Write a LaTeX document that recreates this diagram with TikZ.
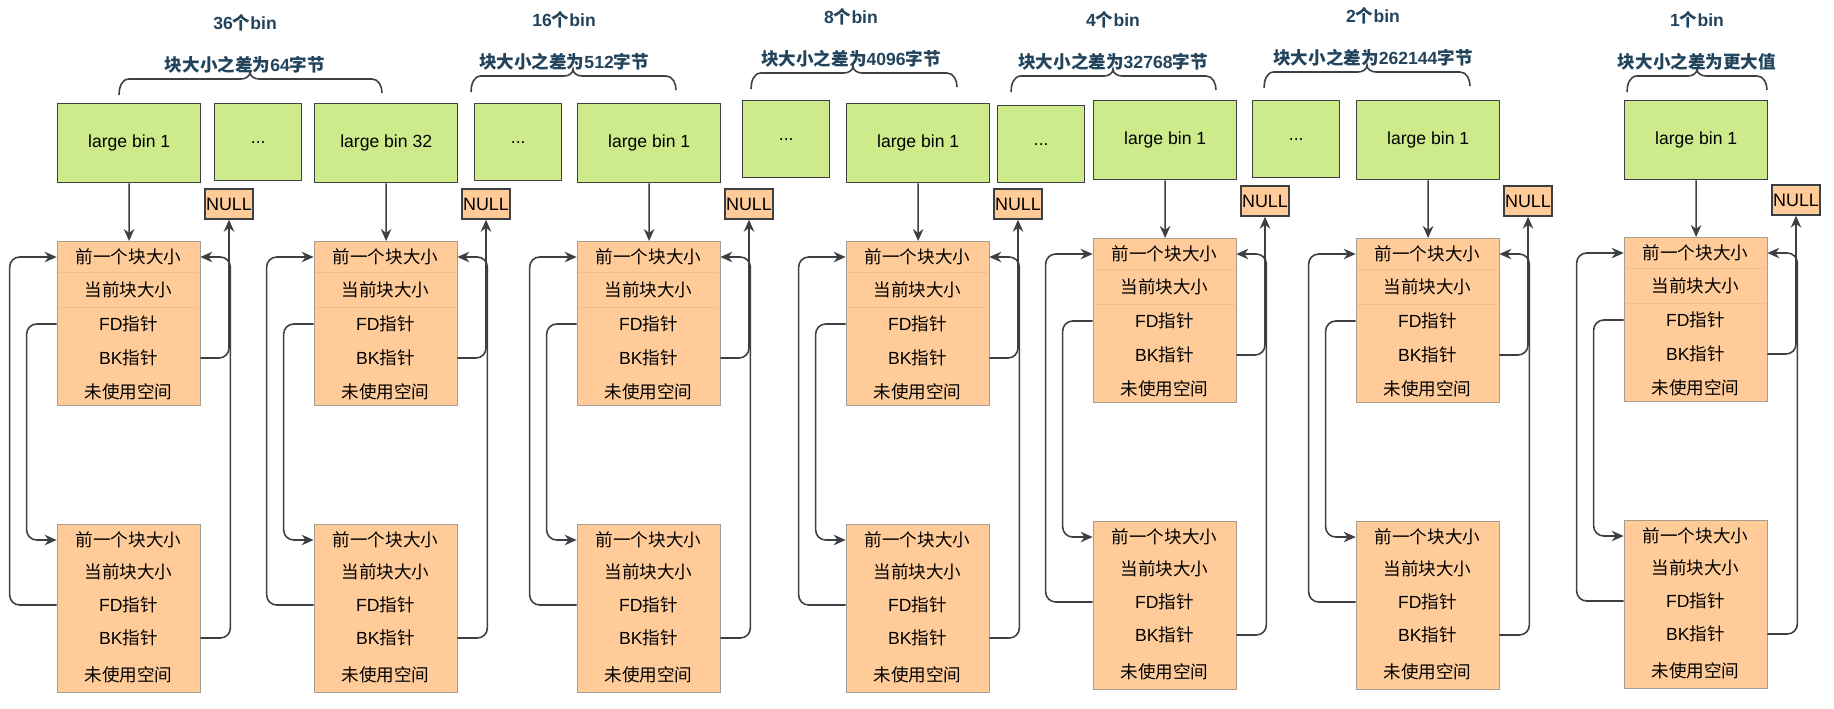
\documentclass[tikz,border=0pt]{standalone}
\usepackage{fontspec}
\setmainfont{Liberation Sans}
\newfontfamily\cjk{Noto Sans CJK SC}
\newcommand{\zh}[1]{{\cjk #1}}
\usetikzlibrary{arrows.meta}
\definecolor{binGreen}{HTML}{CDEB8B}
\definecolor{chunkOrange}{HTML}{FFCC99}
\definecolor{lineGray}{HTML}{3C4045}
\definecolor{titleBlue}{HTML}{23445D}
\definecolor{chunkEdge}{HTML}{A89C90}
\definecolor{rowLine}{HTML}{F2BF8C}

\begin{document}
\begin{tikzpicture}[
    x=0.02cm, y=0.02cm,
    binBox/.style={draw=lineGray,fill=binGreen,line width=0.8pt,minimum width=2.86cm,minimum height=1.58cm,inner sep=0pt,font=\fontsize{10}{12}\selectfont,anchor=north west},
    dotsBox/.style={binBox,minimum width=1.74cm,minimum height=1.54cm},
    nullBox/.style={draw=lineGray,fill=chunkOrange,line width=0.8pt,minimum width=0.96cm,minimum height=0.6cm,inner sep=0pt,font=\fontsize{10.2}{12}\selectfont},
    chunkBox/.style={draw=chunkEdge,fill=chunkOrange,line width=0.6pt,minimum width=2.86cm,inner sep=0pt,anchor=north west},
    rowText/.style={minimum width=2.86cm,inner sep=0pt,font=\fontsize{10}{12}\selectfont},
    titleText/.style={text=titleBlue,font=\fontsize{10}{12}\selectfont\bfseries},
    ptrArrow/.style={-{Stealth[length=0.24cm,width=0.21cm]},line width=0.9pt,draw=lineGray,rounded corners=0.2cm},
    braceLine/.style={line width=0.9pt,draw=lineGray},
]
\path[use as bounding box,fill=white] (0,0) rectangle (1834,-708);

% bin counts, size steps and braces
\foreach \k/\a/\b/\m/\tx/\sy/\cnt/\diff in {
    1/119/382/250/245/65/36/64\zh{字节},
    2/471/676/573/564/62/16/512\zh{字节},
    3/751/957/853/851/59/8/4096\zh{字节},
    4/1011/1216/1113/1113/62/4/32768\zh{字节},
    5/1264/1470/1367/1373/58/2/262144\zh{字节},
    6/1627/1767/1697/1697/62/1/\zh{更大值}} {
  \node[titleText] (count\k) at (\tx,-\sy+42) {\cnt\zh{个}bin};
  \node[titleText] (diff\k) at (\tx,-\sy) {\zh{块大小之差为}\diff};
  \draw[braceLine] (\a,-\sy-30) to[out=90,in=180] (\a+10,-\sy-14) -- (\m-9,-\sy-14)
    to[out=0,in=-90] (\m,-\sy-7) to[out=-90,in=180] (\m+9,-\sy-14) -- (\b-10,-\sy-14)
    to[out=0,in=90] (\b,-\sy-28);
}

% the bins in between
\foreach \k/\x/\y in {1/214/103, 2/474/103, 3/742/100, 4/997/105, 5/1252/100}
  \node[dotsBox] (dots\k) at (\x,-\y) {...};

% one bin with its two free chunks
\foreach \g/\L/\T/\B/\lbl in {1/57/241/103/large bin 1, 2/314/241/103/large bin 32,
    3/577/241/103/large bin 1, 4/846/241/103/large bin 1, 5/1093/238/100/large bin 1,
    6/1356/238/100/large bin 1, 7/1624/237/100/large bin 1} {
  \node[binBox] (lb\g) at (\L,-\B) {\lbl};
  \node[nullBox] (null\g) at (\L+172,-\T+37) {NULL};
  \node[chunkBox,minimum height=3.28cm] (up\g) at (\L,-\T) {};
  \node[chunkBox,minimum height=3.36cm] (dn\g) at (\L,-\T-283) {};
  \draw[rowLine] (\L+1,-\T-31) -- +(141,0) (\L+1,-\T-66) -- +(141,0);
  \foreach \r/\dy/\dz/\txt in {prev/16/16/\zh{前一个块大小}, cur/49/48/\zh{当前块大小},
      fd/83/81/FD\zh{指针}, bk/117/114/BK\zh{指针}, free/151/151/\zh{未使用空间}} {
    \node[rowText] (up\g-\r) at (\L+71.5,-\T-\dy) {\txt};
    \node[rowText] (dn\g-\r) at (\L+71.5,-\T-283-\dz) {\txt};
  }
  \draw[ptrArrow] (lb\g) -- (up\g);
  \draw[ptrArrow] (up\g-fd.west) -- ++(-30,0) |- (dn\g-prev.west);
  \draw[ptrArrow] (dn\g-fd.west) -- ++(-47,0) |- (up\g-prev.west);
  \draw[ptrArrow] (up\g-bk.east) -| (null\g.south);
  \draw[ptrArrow] (dn\g-bk.east) -- ++(30,0) |- (up\g-prev.east);
}
\end{tikzpicture}
\end{document}
